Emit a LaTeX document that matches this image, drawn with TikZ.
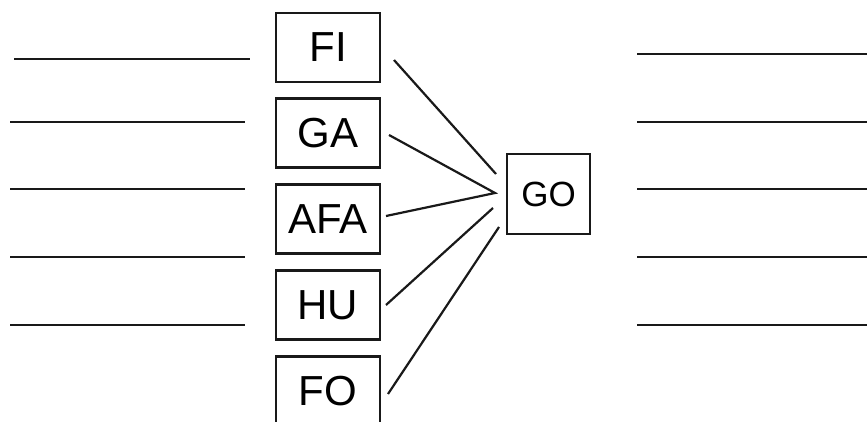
\documentclass[tikz,border=0pt]{standalone}
\usepackage{fontspec}
\setmainfont{Liberation Sans}
\begin{document}
\begin{tikzpicture}[x=1pt,y=-1pt,
  box/.style={draw=black!90,line width=2.2pt,minimum width=104pt,minimum height=69pt,inner sep=0pt,font=\fontsize{42}{42}\selectfont},
  gobox/.style={draw=black!90,line width=2.2pt,minimum width=83pt,minimum height=80pt,inner sep=0pt,font=\fontsize{35}{35}\selectfont},
  rule/.style={draw=black!90,line width=2.6pt},
  link/.style={draw=black!90,line width=2.2pt}]
\clip (0,0) rectangle (867,422);
\fill[white] (0,0) rectangle (867,422);
% boxes
\node[box] (fi) at (328,47.5) {FI};
\node[box] (ga) at (328,133) {GA};
\node[box] (afa) at (328,219) {AFA};
\node[box] (hu) at (328,305) {HU};
\node[box] (fo) at (328,391) {FO};
\node[gobox] (go) at (548.5,194) {GO};
% connector ends
\coordinate (fi1) at (394,60);  \coordinate (fi2) at (496,174);
\coordinate (ga1) at (389,135); \coordinate (ga2) at (495,193);
\coordinate (afa1) at (386,216);\coordinate (afa2) at (495,193);
\coordinate (hu1) at (386,305); \coordinate (hu2) at (493,208);
\coordinate (fo1) at (388,394); \coordinate (fo2) at (499,227);
\draw[link] (fi1) -- (fi2);
\draw[link] (ga1) -- (ga2) -- (afa1);
\draw[link] (hu1) -- (hu2);
\draw[link] (fo1) -- (fo2);
% blank rules left
\coordinate (l1a) at (14,59);  \coordinate (l1b) at (250,59);
\coordinate (l2a) at (10,122); \coordinate (l2b) at (245,122);
\coordinate (l3a) at (10,189); \coordinate (l3b) at (245,189);
\coordinate (l4a) at (10,257); \coordinate (l4b) at (245,257);
\coordinate (l5a) at (10,325); \coordinate (l5b) at (245,325);
\draw[rule] (l1a) -- (l1b);
\draw[rule] (l2a) -- (l2b);
\draw[rule] (l3a) -- (l3b);
\draw[rule] (l4a) -- (l4b);
\draw[rule] (l5a) -- (l5b);
% blank rules right
\coordinate (r1a) at (637,54);  \coordinate (r1b) at (867,54);
\coordinate (r2a) at (637,122); \coordinate (r2b) at (867,122);
\coordinate (r3a) at (637,189); \coordinate (r3b) at (867,189);
\coordinate (r4a) at (637,257); \coordinate (r4b) at (867,257);
\coordinate (r5a) at (637,325); \coordinate (r5b) at (867,325);
\draw[rule] (r1a) -- (r1b);
\draw[rule] (r2a) -- (r2b);
\draw[rule] (r3a) -- (r3b);
\draw[rule] (r4a) -- (r4b);
\draw[rule] (r5a) -- (r5b);
\end{tikzpicture}
\end{document}
